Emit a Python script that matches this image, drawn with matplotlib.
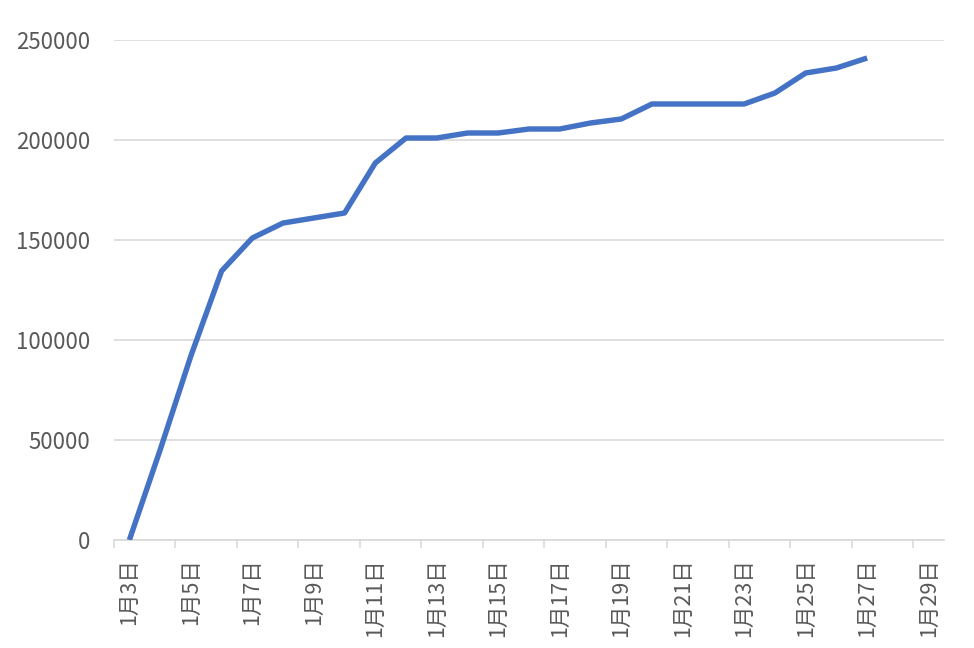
import matplotlib.pyplot as plt
import numpy as np

plt.rcParams['font.family'] = ['Noto Sans CJK JP', 'DejaVu Sans']

# categories on the x axis (one per day)
dates = ['1月3日', '1月4日', '1月5日', '1月6日', '1月7日', '1月8日', '1月9日',
         '1月10日', '1月11日', '1月12日', '1月13日', '1月14日', '1月15日',
         '1月16日', '1月17日', '1月18日', '1月19日', '1月20日', '1月21日',
         '1月22日', '1月23日', '1月24日', '1月25日', '1月26日', '1月27日',
         '1月28日', '1月29日']

# cumulative values (data stops at 1月27日)
values = [0, 45000, 92000, 134500, 151000, 158500, 161000, 163500, 188500,
          201000, 201000, 203500, 203500, 205500, 205500, 208500, 210500,
          218000, 218000, 218000, 218000, 223500, 233500, 236000, 241000]

yticks = [0, 50000, 100000, 150000, 200000, 250000]

grid_col = '#d9d9d9'
text_col = '#595959'

fig = plt.figure(figsize=(9.74, 6.48), dpi=100)
ax = fig.add_axes([114 / 974, 1 - 540 / 648, (944 - 114) / 974, 500 / 648])

x = np.arange(len(values))
ax.plot(x, values, color='#4472C4', linewidth=3.9,
        solid_joinstyle='round', solid_capstyle='butt', zorder=3)

ax.set_xlim(-0.5, len(dates) - 0.5)
ax.set_ylim(0, 250000)

# y axis: gridlines, no ticks, no spine
ax.set_yticks(yticks)
ax.set_yticklabels([str(v) for v in yticks])
ax.yaxis.grid(True, color=grid_col, linewidth=1.2)
ax.set_axisbelow(True)
ax.tick_params(axis='y', length=0, pad=17, labelsize=16, labelcolor=text_col)

# x axis: labels every second day, tick marks between categories
ax.set_xticks(np.arange(0, len(dates), 2))
ax.set_xticklabels(dates[::2], rotation=90)
ax.set_xticks(np.arange(-0.5, len(dates) - 1, 2), minor=True)
ax.tick_params(axis='x', which='major', length=0, pad=13, labelsize=15.5,
               labelcolor=text_col)
ax.tick_params(axis='x', which='minor', length=6, width=1.2, color=grid_col)

for s in ['top', 'right', 'left']:
    ax.spines[s].set_visible(False)
ax.spines['bottom'].set_color(grid_col)
ax.spines['bottom'].set_linewidth(1.2)

fig.savefig('out.png', dpi=100, facecolor='white')
